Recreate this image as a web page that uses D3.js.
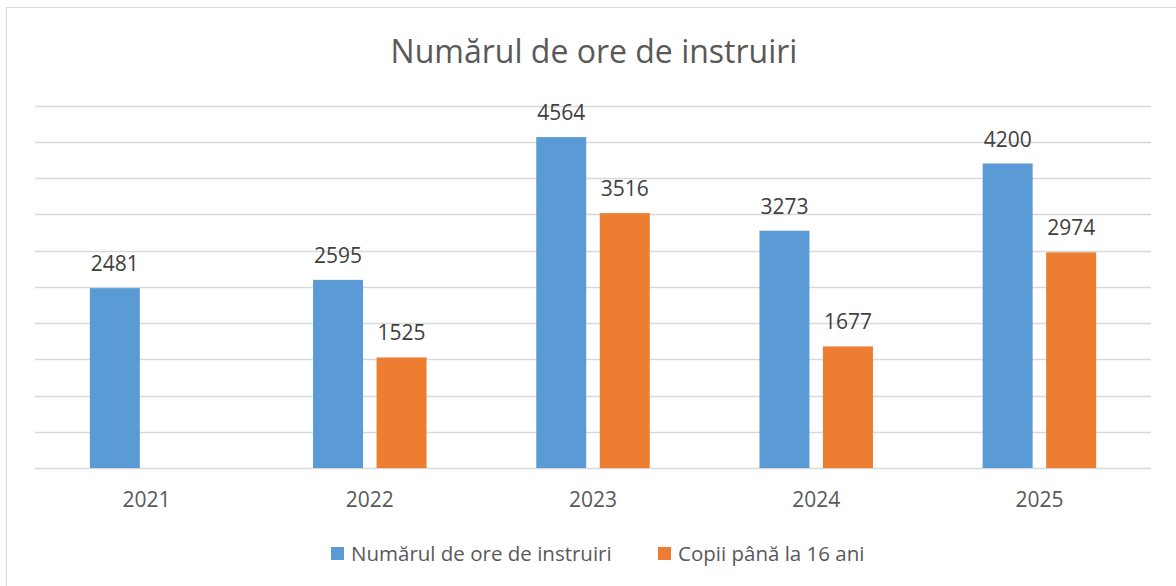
<!DOCTYPE html>
<html><head><meta charset="utf-8">
<script src="https://cdn.jsdelivr.net/npm/d3@7"></script>
<style>body{margin:0;background:#fff;} svg{display:block;}</style>
</head><body>
<svg id="c" width="1176" height="586"></svg>
<script>
const categories = ["2021","2022","2023","2024","2025"];
const seriesNames = ["Numărul de ore de instruiri","Copii până la 16 ani"];
const hours = [2481, 2595, 4564, 3273, 4200];
const kids = [null, 1525, 3516, 1677, 2974];
const yTicks = [0,500,1000,1500,2000,2500,3000,3500,4000,4500,5000];
const colors = ["#5b9bd5","#ed7d31"];
const FONT = "'Open Sans', 'Noto Sans', sans-serif";
const TXT = "#595959";

const svg = d3.select("#c");
svg.append("rect").attr("x",6.5).attr("y",7.5).attr("width",1180).attr("height",600)
  .attr("fill","#fff").attr("stroke","#d9d9d9").attr("stroke-width",1);

const x = d3.scaleBand().domain(categories).range([35,1151]);
const y = d3.scaleLinear().domain([0,5000]).range([468,105.5]);
const barW = 50, gap = 13.5;

svg.append("g").selectAll("line").data(yTicks).join("line")
  .attr("x1",35).attr("x2",1151)
  .attr("y1",d=>Math.round(y(d))+0.5).attr("y2",d=>Math.round(y(d))+0.5)
  .attr("stroke","#d9d9d9").attr("stroke-width",1.5);

svg.append("text").attr("x",594).attr("y",63).attr("text-anchor","middle")
  .attr("font-family",FONT).attr("font-size",32).attr("fill",TXT)
  .text("Numărul de ore de instruiri");

const series = [hours, kids];
series.forEach((vals, si) => {
  const data = categories.map((c,i)=>({c, v: vals[i]})).filter(d=>d.v!=null);
  const off = si===0 ? -(gap/2+barW) : gap/2;
  const g = svg.append("g");
  g.selectAll("rect").data(data).join("rect")
    .attr("x", d=>x(d.c)+x.bandwidth()/2+off)
    .attr("width", barW)
    .attr("y", d=>y(d.v))
    .attr("height", d=>y(0)-y(d.v))
    .attr("fill", colors[si]);
  g.selectAll("text").data(data).join("text")
    .attr("x", d=>x(d.c)+x.bandwidth()/2+off+barW/2)
    .attr("y", d=>y(d.v)-17)
    .attr("text-anchor","middle")
    .attr("font-family",FONT).attr("font-size",21).attr("fill","#404040")
    .text(d=>d.v);
});

const xAxis = svg.append("g").attr("transform","translate(0,468)")
  .call(d3.axisBottom(x).tickSize(0).tickPadding(0));
xAxis.select(".domain").remove();
xAxis.selectAll("text").attr("dy",null).attr("y",39)
  .attr("font-family",FONT).attr("font-size",21).attr("fill",TXT);

const legend = svg.append("g");
const legX = [331, 658];
seriesNames.forEach((n,i)=>{
  legend.append("rect").attr("x",legX[i]).attr("y",547).attr("width",13).attr("height",13).attr("fill",colors[i]);
  legend.append("text").attr("x",legX[i]+20).attr("y",561)
    .attr("font-family",FONT).attr("font-size",20.5).attr("fill",TXT).text(n);
});
</script>
</body></html>
